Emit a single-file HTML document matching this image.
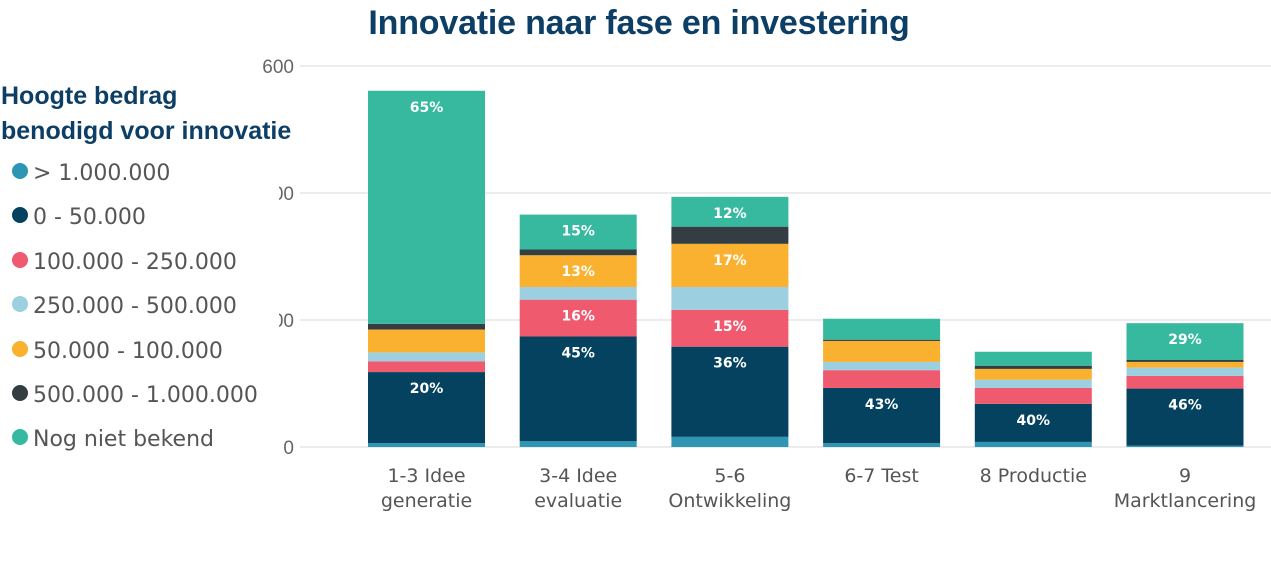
<!DOCTYPE html>
<html>
<head>
<meta charset="utf-8">
<style>
  html,body{margin:0;padding:0;background:#fff;}
  body{width:1271px;height:570px;position:relative;overflow:hidden;font-family:"Liberation Sans","DejaVu Sans",sans-serif;}
  #title{position:absolute;left:0;width:1278px;top:4px;text-align:center;font-weight:bold;font-size:34px;color:#0d3f66;letter-spacing:-0.2px;}
  #legend{position:absolute;left:0;top:78px;width:279px;height:385px;background:#fff;}
  .lt{position:absolute;left:1px;font-weight:bold;font-size:25px;color:#0d3f66;letter-spacing:0px;white-space:nowrap;}
  .li{position:absolute;left:12px;font-family:"DejaVu Sans",sans-serif;font-size:22px;color:#555;white-space:nowrap;}
  .dot{display:inline-block;width:16px;height:16px;border-radius:50%;margin-right:5px;vertical-align:1px;}
</style>
</head>
<body>
<div id="title">Innovatie naar fase en investering</div>
<svg id="chart" width="1271" height="570" style="position:absolute;left:0;top:0"></svg>
<div id="legend">
  <div class="lt" style="top:4px">Hoogte bedrag</div>
  <div class="lt" style="top:39px">benodigd voor innovatie</div>
  <div class="li" style="top:83px"><span class="dot" style="background:#2e96b4"></span>&gt; 1.000.000</div>
  <div class="li" style="top:127px"><span class="dot" style="background:#04425f"></span>0 - 50.000</div>
  <div class="li" style="top:172px"><span class="dot" style="background:#ef5a6f"></span>100.000 - 250.000</div>
  <div class="li" style="top:216px"><span class="dot" style="background:#9ccfe0"></span>250.000 - 500.000</div>
  <div class="li" style="top:261px"><span class="dot" style="background:#fbb130"></span>50.000 - 100.000</div>
  <div class="li" style="top:305px"><span class="dot" style="background:#333d42"></span>500.000 - 1.000.000</div>
  <div class="li" style="top:349px"><span class="dot" style="background:#36b99f"></span>Nog niet bekend</div>
</div>
<script>
const categories = [["1-3 Idee","generatie"],["3-4 Idee","evaluatie"],["5-6","Ontwikkeling"],["6-7 Test",""],["8 Productie",""],["9","Marktlancering"]];
const yTicks = [0,200,400,600];
const sOver1m   = [6, 9, 16, 6, 8, 2];
const s0to50k   = [112, 165, 142, 87, 60, 90];
const s100to250 = [17, 58, 58, 28, 25, 20];
const s250to500 = [14, 20, 36, 13, 13, 13];
const s50to100  = [36, 50, 68, 33, 17, 9];
const s500to1m  = [9, 9, 27, 2, 5, 3];
const sOnbekend = [367, 55, 47, 33, 22, 58];
const l0to50k   = ["20%","45%","36%","43%","40%","46%"];
const l100to250 = ["","16%","15%","","",""];
const l50to100  = ["","13%","17%","","",""];
const lOnbekend = ["65%","15%","12%","","","29%"];

const series = [
  {name:"over-1m", vals:sOver1m, color:"#2e96b4", labels:null},
  {name:"0-50k", vals:s0to50k, color:"#04425f", labels:l0to50k},
  {name:"100k-250k", vals:s100to250, color:"#ef5a6f", labels:l100to250},
  {name:"250k-500k", vals:s250to500, color:"#9ccfe0", labels:null},
  {name:"50k-100k", vals:s50to100, color:"#fbb130", labels:l50to100},
  {name:"500k-1m", vals:s500to1m, color:"#333d42", labels:null},
  {name:"onbekend", vals:sOnbekend, color:"#36b99f", labels:lOnbekend}
];
const svg = document.getElementById('chart');
const NS = "http://www.w3.org/2000/svg";
const y0 = 447, y600 = 66;
function yScale(v){ return y0 - v*(y0-y600)/600; }
const firstCenter = 426.5, step = 151.7, barW = 117;
function xCenter(i){ return firstCenter + i*step; }
function mk(tag, attrs){ const e=document.createElementNS(NS,tag); for(const k in attrs) e.setAttribute(k,attrs[k]); svg.appendChild(e); return e; }

yTicks.forEach(t=>{
  const g = mk('line',{x1:300,x2:1271,y1:yScale(t),y2:yScale(t),stroke:"#e6e6e6","stroke-width":1.5});
  
  
  const tx = mk('text',{x:294,y:yScale(t)+7,"text-anchor":"end","font-size":19,fill:"#666","font-family":"Liberation Sans, sans-serif"});
  tx.textContent = t;
  
  
});

categories.forEach((c,i)=>{
  let acc = 0;
  series.forEach(s=>{
    const v = s.vals[i];
    const yt = yScale(acc+v), yb = yScale(acc);
    const r = mk('rect',{x:xCenter(i)-barW/2,y:yt,width:barW,height:Math.max(0,yb-yt),fill:s.color});
    
    
    if(s.labels && s.labels[i]){
      const t = mk('text',{x:xCenter(i),y:yt+21,"text-anchor":"middle","font-size":14,"font-weight":"600",fill:"#fff","font-family":"DejaVu Sans, sans-serif"});
      t.textContent = s.labels[i];
      
      
    }
    acc += v;
  });
  c.forEach((line,k)=>{
    if(!line) return;
    const t = mk('text',{x:xCenter(i),y:482+k*25,"text-anchor":"middle","font-size":19,fill:"#555","font-family":"DejaVu Sans, sans-serif"});
    t.textContent = line;
    
    
  });
});
</script>
</body>
</html>
